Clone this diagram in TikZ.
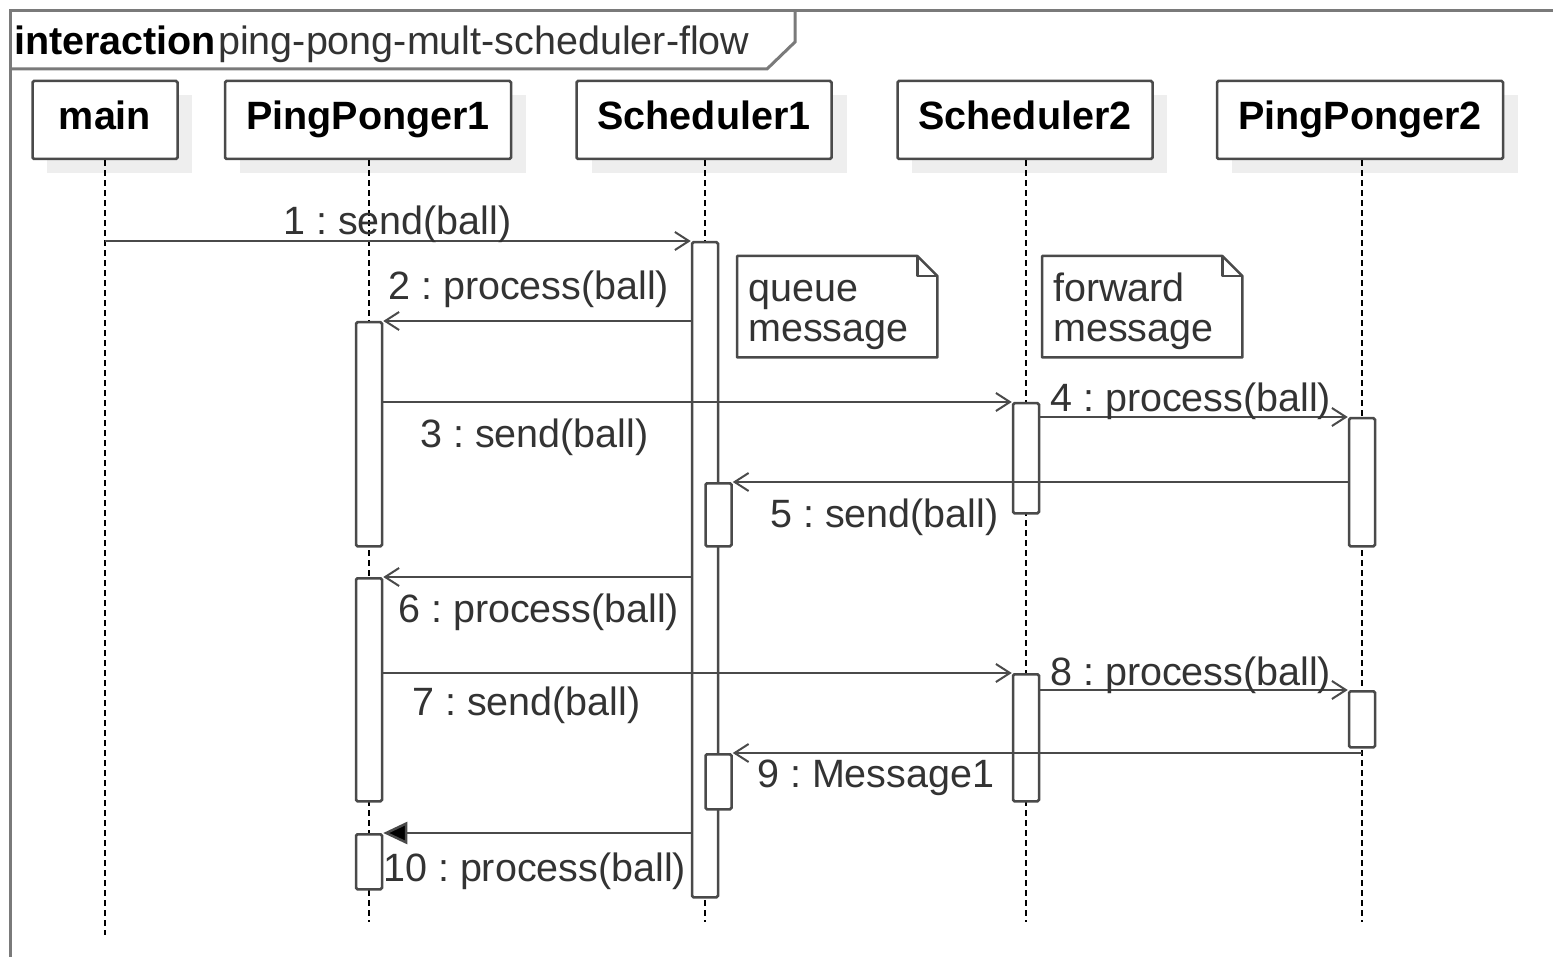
\documentclass[tikz,border=0pt]{standalone}
\usepackage{fontspec}
\setmainfont{Liberation Sans}
\usetikzlibrary{arrows.meta,calc}
\definecolor{ln}{HTML}{4A4A4A}
\definecolor{fr}{HTML}{7A7A7A}
\definecolor{tx}{HTML}{333333}
\definecolor{sh}{HTML}{EEEEEE}
\frenchspacing
\begin{document}
\begin{tikzpicture}[x=1pt,y=-1pt,
  head/.style={draw=ln, line width=2.5pt, fill=white, minimum height=78pt, inner sep=0pt, rounded corners=1.5pt},
  shad/.style={fill=sh, draw=none, minimum height=78pt, inner sep=0pt},
  hfont/.style={font=\fontsize{39.5}{40}\selectfont\bfseries, text=black, inner sep=0pt, anchor=base},
  lbl/.style={font=\fontsize{39.5}{40}\selectfont\frenchspacing, text=tx, inner sep=0pt, anchor=base west},
  life/.style={draw=black, line width=2pt, dash pattern=on 6pt off 4pt},
  act/.style={draw=ln, line width=2.5pt, fill=white, minimum width=26pt, inner sep=0pt, rounded corners=1.5pt, anchor=north},
  msg/.style={draw=ln, line width=2.5pt, -{Straight Barb[length=14pt,width=18pt,line width=2pt]}},
  callmsg/.style={draw=ln, line width=2.5pt, -{Triangle[length=24pt,width=22pt,fill=black]}},
  notebox/.style={minimum width=200pt, minimum height=101pt, inner sep=0pt, anchor=north west},
  noteline/.style={draw=ln, line width=2.5pt, fill=white, line join=round},
  framel/.style={draw=fr, line width=3pt}
]
\useasboundingbox (0,0) rectangle (1553,957);
\fill[white] (0,0) rectangle (1553,957);

% frame
\draw[framel] (10,957) -- (10,11) -- (1553,11);
\draw[framel] (10,69) -- (767,69) -- (795,42) -- (795,11);
\node[font=\fontsize{39.5}{40}\selectfont\bfseries, text=black, inner sep=0pt, anchor=base west] (t1) at (14,55) {interaction};
\node[lbl] (t2) at (218,55) {ping-pong-mult-scheduler-flow};

% header shadows
\node[shad, minimum width=145pt] (mainS) at (119,134) {};
\node[shad, minimum width=286pt] (pp1S) at (383,134) {};
\node[shad, minimum width=255pt] (s1S) at (719,134) {};
\node[shad, minimum width=255pt] (s2S) at (1039,134) {};
\node[shad, minimum width=286pt] (pp2S) at (1375,134) {};

% headers
\node[head, minimum width=145pt] (main) at (105,120) {};
\node[head, minimum width=286pt] (pp1) at (368,120) {};
\node[head, minimum width=255pt] (s1) at (704,120) {};
\node[head, minimum width=255pt] (s2) at (1025,120) {};
\node[head, minimum width=286pt] (pp2) at (1360,120) {};
\node[hfont] (mainT) at (105,130) {main};
\node[hfont] (pp1T) at (368,130) {PingPonger1};
\node[hfont] (s1T) at (704,130) {Scheduler1};
\node[hfont] (s2T) at (1025,130) {Scheduler2};
\node[hfont] (pp2T) at (1360,130) {PingPonger2};

% lifelines
\coordinate (mainE) at (105,935);
\coordinate (pp1E) at (369,922);
\coordinate (s1E) at (705,922);
\coordinate (s2E) at (1026,922);
\coordinate (pp2E) at (1362,922);
\draw[life] (main.south -| mainE) -- (mainE);
\draw[life] (pp1.south -| pp1E) -- (pp1E);
\draw[life] (s1.south -| s1E) -- (s1E);
\draw[life] (s2.south -| s2E) -- (s2E);
\draw[life] (pp2.south -| pp2E) -- (pp2E);

% activations
\node[act, minimum height=655pt] (s1a) at (705,241) {};
\node[act, minimum height=63pt] (s1b) at (718.5,482) {};
\node[act, minimum height=55pt] (s1c) at (718.5,753) {};
\node[act, minimum height=224pt] (pp1a) at (369,321) {};
\node[act, minimum height=223pt] (pp1b) at (369,577) {};
\node[act, minimum height=55pt] (pp1c) at (369,833) {};
\node[act, minimum height=110pt] (s2a) at (1026,402) {};
\node[act, minimum height=127pt] (s2b) at (1026,673) {};
\node[act, minimum height=128pt] (pp2a) at (1362,417) {};
\node[act, minimum height=56pt] (pp2b) at (1362,690) {};

% notes
\node[notebox] (n1) at (737,256) {};
\draw[noteline] (n1.north west) -- ($(n1.north east)+(-20,0)$) -- ($(n1.north east)+(0,20)$) -- (n1.south east) -- (n1.south west) -- cycle;
\draw[noteline, fill=none] ($(n1.north east)+(-20,0)$) -- ($(n1.north east)+(-20,20)$) -- ($(n1.north east)+(0,20)$);
\node[lbl] (n1a) at (748,302) {queue};
\node[lbl] (n1b) at (748,342) {message};

\node[notebox] (n2) at (1042,256) {};
\draw[noteline] (n2.north west) -- ($(n2.north east)+(-20,0)$) -- ($(n2.north east)+(0,20)$) -- (n2.south east) -- (n2.south west) -- cycle;
\draw[noteline, fill=none] ($(n2.north east)+(-20,0)$) -- ($(n2.north east)+(-20,20)$) -- ($(n2.north east)+(0,20)$);
\node[lbl] (n2a) at (1053,302) {forward};
\node[lbl] (n2b) at (1053,342) {message};

% messages
\draw[msg] (main.south |- s1a.north) -- (s1a.north west);
\draw[msg] (s1a.west |- pp1a.north) -- (pp1a.north east);
\draw[msg] (pp1a.east |- s2a.north) -- (s2a.north west);
\draw[msg] (s2a.east |- pp2a.north) -- (pp2a.north west);
\draw[msg] (pp2a.west |- s1b.north) -- (s1b.north east);
\draw[msg] (s1a.west |- pp1b.north) -- (pp1b.north east);
\draw[msg] (pp1b.east |- s2b.north) -- (s2b.north west);
\draw[msg] (s2b.east |- pp2b.north) -- (pp2b.north west);
\draw[msg] (pp2E |- s1c.north) -- (s1c.north east);
\draw[callmsg] (s1a.west |- pp1c.north) -- (pp1c.north east);

% labels
\node[lbl] (l1) at (283,235) {1 : send(ball)};
\node[lbl] (l2) at (388,300) {2 : process(ball)};
\node[lbl] (l3) at (420,447) {3 : send(ball)};
\node[lbl] (l4) at (1050,412) {4 : process(ball)};
\node[lbl] (l5) at (770,527) {5 : send(ball)};
\node[lbl] (l6) at (398,622) {6 : process(ball)};
\node[lbl] (l7) at (412,715) {7 : send(ball)};
\node[lbl] (l8) at (1050,685) {8 : process(ball)};
\node[lbl] (l9) at (757,787) {9 : Message1};
\node[lbl] (l10) at (383,881) {10 : process(ball)};
\end{tikzpicture}
\end{document}
